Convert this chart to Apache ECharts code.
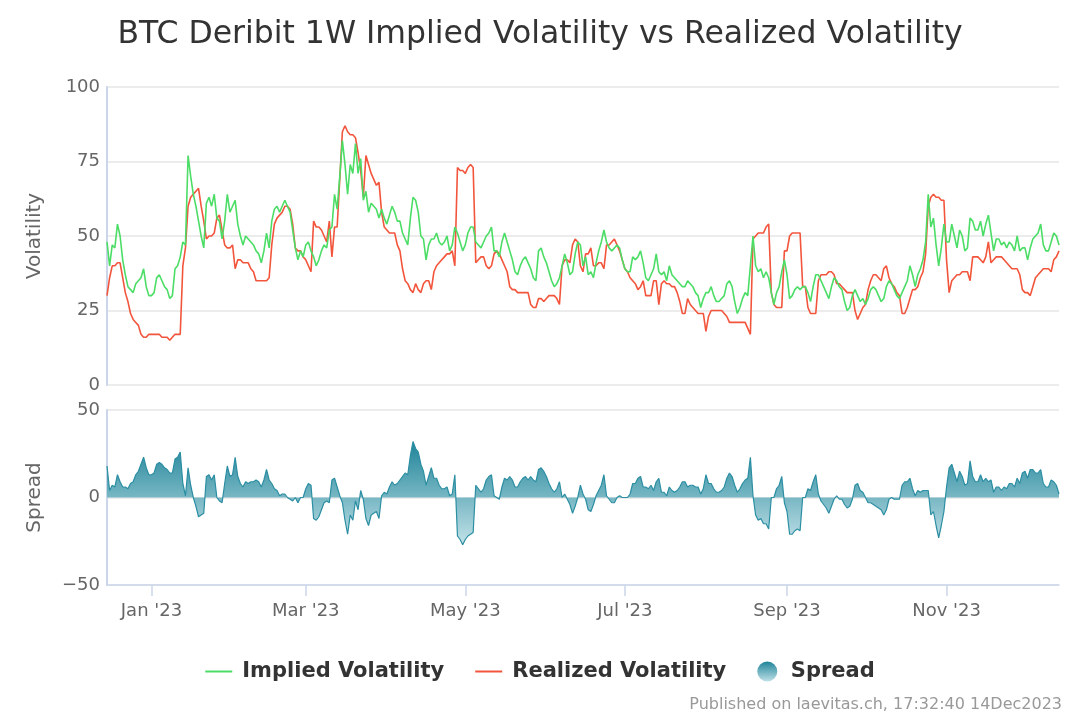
<!DOCTYPE html>
<html><head><meta charset="utf-8">
<script src="https://cdn.jsdelivr.net/npm/echarts@6/dist/echarts.min.js"></script>
<style>html,body{margin:0;padding:0;background:#fff}#c{width:1080px;height:720px}</style>
</head><body><div id="c"></div>
<script>
const startDate = '2022-12-15';
const dayCount = 365;
const tickDates = ['2023-01-01','2023-03-01','2023-05-01','2023-07-01','2023-09-01','2023-11-01'];
const tickLabels = ["Jan '23","Mar '23","May '23","Jul '23","Sep '23","Nov '23"];
const volTicks = { min: 0, max: 100, step: 25 };
const spreadTicks = { min: -50, max: 50, step: 50 };

const implied = [
48,40,47,46,54,50,42,37,33,32,
31,34,35,36,39,33,30,30,31,36,
37,35,33,32,29,30,39,40,43,48,
47,77,70,64,60,55,50,46,61,63,
60,64,56,55,49,55,64,58,60,62,
54,50,47,50,49,48,47,45,44,41,
45,51,46,55,59,60,58,60,62,60,
58,52,46,42,45,43,47,48,45,43,
40,42,45,47,46,52,53,64,59,70,
82,74,64,74,71,81,71,76,62,65,
58,61,60,59,56,59,56,54,57,60,
58,55,55,51,49,47,56,63,62,58,
50,49,42,47,49,49,51,48,47,48,
50,45,47,53,51,48,45,47,51,53,
53,48,47,46,48,50,51,53,45,45,
43,48,51,48,45,42,38,37,40,42,
43,41,39,36,35,45,46,43,41,38,
35,33,34,36,40,44,41,37,38,44,
48,47,40,43,37,38,36,41,45,48,
52,48,46,45,46,47,46,42,39,38,
38,43,42,43,45,41,36,35,37,39,
44,38,37,38,35,40,37,36,35,34,
33,33,35,34,33,31,30,26,29,31,
31,33,30,28,28,29,30,34,35,33,
28,24,26,29,31,30,40,50,40,38,
39,36,38,36,31,27,31,33,38,42,
37,29,30,32,33,32,33,33,31,28,
33,37,37,35,33,31,29,33,36,35,
33,32,28,25,26,30,32,30,28,29,
27,29,32,33,32,30,28,29,33,35,
34,32,30,29,31,33,35,40,37,33,
37,39,42,48,64,53,56,47,40,46,
54,48,48,54,50,46,52,50,45,46,
56,55,52,52,55,50,54,57,51,45,
49,49,47,48,46,48,47,45,50,45,
46,46,42,46,49,50,51,54,47,45,
45,48,51,50,47
];

const realized = [
30,36,40,40,41,41,36,31,28,24,
22,21,20,17,16,16,17,17,17,17,
17,16,16,16,15,16,17,17,17,40,
46,60,63,64,65,66,60,55,49,50,
50,51,56,57,52,47,46,46,47,39,
42,42,41,41,41,39,38,35,35,35,
35,35,36,47,54,56,57,58,60,60,
59,54,46,45,45,43,42,40,38,55,
53,53,52,50,48,55,43,53,53,69,
85,87,85,84,84,83,78,72,63,77,
74,71,69,67,68,58,53,52,51,51,
51,47,45,39,35,34,32,31,34,32,
31,34,35,35,32,38,40,41,42,43,
44,44,45,40,73,72,72,71,73,74,
73,41,42,43,43,40,39,40,44,45,
44,42,40,38,33,32,32,31,31,31,
31,31,27,26,26,29,29,28,29,30,
30,30,29,27,40,42,42,41,47,49,
48,40,38,44,44,46,40,40,41,41,
39,47,47,48,49,47,45,42,39,38,
36,35,34,32,33,35,30,30,30,35,
35,27,34,35,34,34,33,33,31,28,
24,24,29,27,26,25,24,24,24,18,
23,25,25,25,25,25,24,23,21,21,
21,21,21,21,21,19,17,49,50,51,
51,51,53,54,31,27,26,26,26,45,
45,50,51,51,51,51,33,33,26,24,
24,24,35,37,37,37,38,38,37,34,
34,33,32,31,31,31,25,22,24,26,
27,32,35,37,37,36,35,39,40,36,
34,33,31,30,24,24,26,29,32,32,
33,36,38,44,60,63,64,63,63,62,
62,42,31,35,36,37,37,38,38,38,
35,43,43,43,42,41,43,48,41,42,
43,43,43,42,41,40,39,39,39,37,
32,31,31,30,33,36,37,38,39,39,
39,38,42,43,45
];

// categories (one per day)
const categories = [];
{
  const t0 = Date.parse(startDate + 'T00:00:00Z');
  for (let i = 0; i < dayCount; i++) {
    categories.push(new Date(t0 + i * 86400000).toISOString().slice(0, 10));
  }
}
// spread = implied - realized
const spread = implied.map((v, i) => +(v - realized[i]).toFixed(1));

const GREEN = '#4cdd66', RED = '#f2553c', TEAL = '#2b8ea2';
const FONT = 'DejaVu Sans';
const isTick = (idx, val) => tickDates.indexOf(val) >= 0;
const minus = v => String(v).replace('-', '\u2212');

const chart = echarts.init(document.getElementById('c'), null, { renderer: 'canvas' });
chart.setOption({
  animation: false,
  backgroundColor: '#fff',
  textStyle: { fontFamily: FONT },
  title: {
    text: 'BTC Deribit 1W Implied Volatility vs Realized Volatility',
    left: 'center', top: 14,
    textStyle: { fontFamily: FONT, fontSize: 31.5, fontWeight: 'normal', color: '#333' }
  },
  graphic: [{
    type: 'text', right: 18, bottom: 7,
    style: { text: 'Published on laevitas.ch, 17:32:40 14Dec2023', fill: '#999', font: '16px "DejaVu Sans"' }
  }],
  legend: {
    top: 656, left: 'center',
    itemWidth: 27, itemHeight: 20, itemGap: 31,
    textStyle: { fontFamily: FONT, fontSize: 21, fontWeight: 'bold', color: '#333', padding: [0, 0, 0, 5] },
    data: [
      { name: 'Implied Volatility', icon: 'path://M0,0h27v2h-27z', itemStyle: { color: GREEN, borderWidth: 0 } },
      { name: 'Realized Volatility', icon: 'path://M0,0h27v2h-27z', itemStyle: { color: RED, borderWidth: 0 } },
      { name: 'Spread', icon: 'circle', itemStyle: { borderWidth: 0, color: new echarts.graphic.LinearGradient(0, 0, 0, 1, [{ offset: 0, color: '#1f8499' }, { offset: 1, color: '#bfe0e7' }]) } }
    ]
  },
  grid: [
    { left: 107, right: 21, top: 87, height: 298 },
    { left: 107, right: 21, top: 410, height: 175 }
  ],
  xAxis: [
    { type: 'category', gridIndex: 0, data: categories, boundaryGap: false,
      axisLine: { show: false, onZero: false }, axisTick: { show: false }, axisLabel: { show: false }, splitLine: { show: false } },
    { type: 'category', gridIndex: 1, data: categories, boundaryGap: false, position: 'bottom',
      axisLine: { show: true, onZero: false, lineStyle: { color: '#ccd6eb', width: 1.5 } },
      axisTick: { show: true, interval: isTick, length: 11, lineStyle: { color: '#ccd6eb', width: 1.5 } },
      axisLabel: { interval: isTick, color: '#666', fontSize: 18, fontFamily: FONT, margin: 17,
        formatter: v => tickLabels[tickDates.indexOf(v)] || '' },
      splitLine: { show: false } }
  ],
  yAxis: [
    { type: 'value', gridIndex: 0, min: volTicks.min, max: volTicks.max, interval: volTicks.step,
      name: 'Volatility', nameLocation: 'middle', nameGap: 62,
      nameTextStyle: { fontFamily: FONT, fontSize: 20, color: '#666' },
      axisLine: { show: true, onZero: false, lineStyle: { color: '#ccd6eb', width: 2 } },
      axisTick: { show: false },
      axisLabel: { color: '#666', fontSize: 18, fontFamily: FONT, margin: 7 },
      splitLine: { lineStyle: { color: '#e6e6e6', width: 1.5 } } },
    { type: 'value', gridIndex: 1, min: spreadTicks.min, max: spreadTicks.max, interval: spreadTicks.step,
      name: 'Spread', nameLocation: 'middle', nameGap: 62,
      nameTextStyle: { fontFamily: FONT, fontSize: 20, color: '#666' },
      axisLine: { show: true, onZero: false, lineStyle: { color: '#ccd6eb', width: 2 } },
      axisTick: { show: false },
      axisLabel: { color: '#666', fontSize: 18, fontFamily: FONT, margin: 7, formatter: minus },
      splitLine: { lineStyle: { color: '#e6e6e6', width: 1.5 } } }
  ],
  series: [
    { name: 'Implied Volatility', type: 'line', xAxisIndex: 0, yAxisIndex: 0, data: implied,
      showSymbol: false, symbol: 'none', lineStyle: { color: GREEN, width: 1.6 }, itemStyle: { color: GREEN }, z: 3 },
    { name: 'Realized Volatility', type: 'line', xAxisIndex: 0, yAxisIndex: 0, data: realized,
      showSymbol: false, symbol: 'none', lineStyle: { color: RED, width: 1.6 }, itemStyle: { color: RED }, z: 2 },
    { name: 'Spread', type: 'line', xAxisIndex: 1, yAxisIndex: 1, data: spread,
      showSymbol: false, symbol: 'none', lineStyle: { color: TEAL, width: 1.2 }, itemStyle: { color: TEAL },
      areaStyle: { opacity: 1, color: new echarts.graphic.LinearGradient(0, 0, 0, 1, [
        { offset: 0, color: '#1f8499' }, { offset: 1, color: '#c3e2e8' }]) } }
  ]
});
</script>
</body></html>
